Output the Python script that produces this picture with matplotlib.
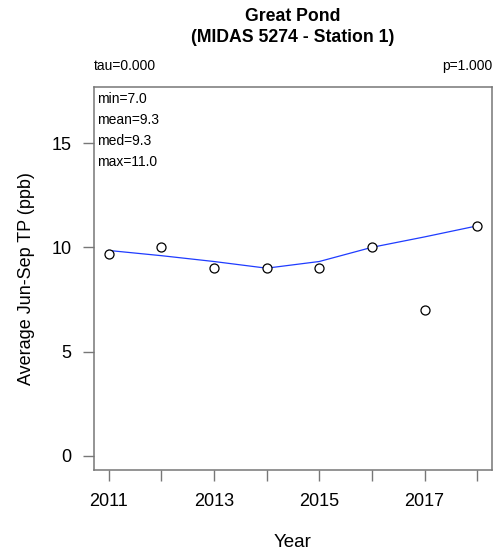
import matplotlib
matplotlib.use("Agg")
import matplotlib.pyplot as plt
import numpy as np

plt.rcParams["font.family"] = ["Liberation Sans", "DejaVu Sans"]

YEARS = [2011, 2012, 2013, 2014, 2015, 2016, 2017, 2018]
TP = [9.7, 10.0, 9.0, 9.0, 9.0, 10.0, 7.0, 11.0]
# smoothed trend through the annual means
SMOOTH = [9.85, 9.6, 9.32, 9.0, 9.32, 10.0, 10.5, 11.03]
YTICKS = [0, 5, 10, 15]
XLABELS = ["2011", "", "2013", "", "2015", "", "2017", ""]


def main():
    fig = plt.figure(figsize=(4.94, 5.55), dpi=100)
    ax = fig.add_axes([0.190, 0.153, 0.806, 0.690])

    ax.plot(YEARS, SMOOTH, color="#1f3cff", lw=0.9, zorder=2)
    ax.plot(YEARS, TP, ls="none", marker="o", ms=6.5, mfc="white",
            mec="black", mew=0.9, zorder=3)

    ax.set_xlim(2011 - 0.28, 2018 + 0.28)
    ax.set_ylim(-0.68, 17.68)
    ax.set_xticks(YEARS)
    ax.set_xticklabels(XLABELS)
    ax.set_yticks(YTICKS)
    ax.tick_params(axis="both", direction="out", length=8, width=1.0,
                   color="#777777", labelsize=13)
    ax.tick_params(axis="x", pad=8.5)
    ax.tick_params(axis="y", pad=8)
    for sp in ax.spines.values():
        sp.set_color("#777777")
        sp.set_linewidth(1.1)

    ax.set_xlabel("Year", fontsize=13.5, labelpad=17)
    ax.set_ylabel("Average Jun-Sep TP (ppb)", fontsize=13, labelpad=12)

    vals = np.array(TP)
    stats = [f"min={vals.min():.1f}", f"mean={vals.mean():.1f}",
             f"med={np.median(vals):.1f}", f"max={vals.max():.1f}"]
    for i, s in enumerate(stats):
        ax.text(0.008, 0.970 - i * 0.0548, s, transform=ax.transAxes,
                fontsize=10, ha="left", va="center")

    ax.text(0.0, 1.055, "tau=0.000", transform=ax.transAxes, fontsize=10,
            ha="left", va="center")
    ax.text(1.0, 1.055, "p=1.000", transform=ax.transAxes, fontsize=10,
            ha="right", va="center")

    fig.text(0.593, 0.971, "Great Pond", fontsize=12.7, fontweight="bold",
             ha="center", va="center")
    fig.text(0.593, 0.932, "(MIDAS 5274 - Station 1)", fontsize=12.7,
             fontweight="bold", ha="center", va="center")

    fig.savefig("out.png", dpi=100)
    plt.close(fig)


if __name__ == "__main__":
    main()
